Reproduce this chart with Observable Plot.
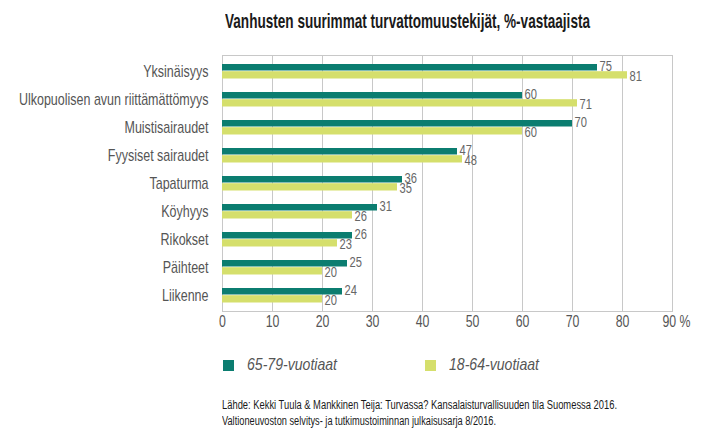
<!DOCTYPE html>
<html>
<head>
<meta charset="utf-8">
<script src="https://cdn.jsdelivr.net/npm/d3@7"></script>
<script src="https://cdn.jsdelivr.net/npm/@observablehq/plot@0.6"></script>
<style>
  html, body { margin: 0; padding: 0; background: #fff; }
  body { width: 712px; height: 446px; position: relative; overflow: hidden;
         font-family: "Liberation Sans", Arial, sans-serif; }
  .cond { display: inline-block; white-space: nowrap; transform-origin: 0 50%; }
  #title { position: absolute; left: 225px; top: 9px; font-size: 21px; font-weight: bold; color: #1a1a1a; }
  #chart { position: absolute; left: 0; top: 45px; }
  #legend { position: absolute; left: 223px; top: 355px; font-size: 17px; font-style: italic; color: #555; }
  .item { position: absolute; white-space: nowrap; display: flex; align-items: center; height: 20px; }
  .sw { width: 11px; height: 11px; margin-right: 13px; flex: none; }
  #caption { position: absolute; left: 222px; top: 397px; font-size: 12.5px; line-height: 16px; color: #1a1a1a; }
</style>
</head>
<body>
<div id="title"><span class="cond" data-w="365">Vanhusten suurimmat turvattomuustekijät, %-vastaajista</span></div>
<div id="chart"></div>
<div id="legend"></div>
<div id="caption"><span class="cond" data-w="395">Lähde: Kekki Tuula &amp; Mankkinen Teija: Turvassa? Kansalaisturvallisuuden tila Suomessa 2016.</span><br><span class="cond" data-w="274">Valtioneuvoston selvitys- ja tutkimustoiminnan julkaisusarja 8/2016.</span></div>
<script>
const categories = ["Yksinäisyys", "Ulkopuolisen avun riittämättömyys", "Muistisairaudet", "Fyysiset sairaudet", "Tapaturma", "Köyhyys", "Rikokset", "Päihteet", "Liikenne"];
const series = ["65-79-vuotiaat", "18-64-vuotiaat"];
const colors = ["#0b7d70", "#d5df6c"];
const older = [75, 60, 70, 47, 36, 31, 26, 25, 24];
const younger = [81, 71, 60, 48, 35, 26, 23, 20, 20];
const xTicks = [0, 10, 20, 30, 40, 50, 60, 70, 80, 90];

const dOld = categories.map((c, i) => ({category: c, value: older[i]}));
const dYoung = categories.map((c, i) => ({category: c, value: younger[i]}));

const FONT = '"Liberation Sans", Arial, sans-serif';
const SQUEEZE = 0.77;
const SQUEEZE_Y = 0.735;

const chart = Plot.plot({
  width: 712,
  height: 290,
  marginLeft: 222,
  marginRight: 40,
  marginTop: 10,
  marginBottom: 24,
  style: {fontFamily: FONT, background: "#fff"},
  x: {domain: [0, 90], ticks: xTicks, tickSize: 0, tickPadding: 4,
      tickFormat: d => d === 90 ? "90 %" : String(d), label: null},
  y: {domain: categories, padding: 0, tickSize: 0, tickPadding: 14, label: null},
  marks: [
    Plot.ruleX(xTicks, {stroke: "#c8c8c8", strokeWidth: 1}),
    Plot.frame({stroke: "#c8c8c8"}),
    Plot.barX(dOld, {x: "value", y: "category", fill: colors[0], insetTop: 7, insetBottom: 14.5}),
    Plot.barX(dYoung, {x: "value", y: "category", fill: colors[1], insetTop: 14.2, insetBottom: 6.5}),
    Plot.text(dOld, {x: "value", y: "category", text: d => String(d.value), dx: 2, dy: -5.5, textAnchor: "start",
                     fill: "#666", fontSize: 14.5, className: "vlab"}),
    Plot.text(dYoung, {x: "value", y: "category", text: d => String(d.value), dx: 2, dy: 5, textAnchor: "start",
                       fill: "#666", fontSize: 14.5, className: "vlab"})
  ]
});
const svg = d3.select(chart);
svg.selectAll("g[aria-label='x-axis tick label']").attr("font-size", "16px").attr("fill", "#555");
svg.selectAll("g[aria-label='y-axis tick label']").attr("font-size", "17px").attr("fill", "#555");
document.getElementById("chart").appendChild(chart);

// condense SVG texts (the reference uses a condensed typeface)
function condense(sel, f) {
  sel.each(function() {
    const w = this.getComputedTextLength();
    this.setAttribute("textLength", w * f);
    this.setAttribute("lengthAdjust", "spacingAndGlyphs");
  });
}
condense(svg.selectAll("g[aria-label='x-axis tick label'] text, .vlab text"), SQUEEZE);
condense(svg.selectAll("g[aria-label='y-axis tick label'] text"), SQUEEZE_Y);
// keep the "90" of "90 %" centred on its gridline
svg.selectAll("g[aria-label='x-axis tick label'] text").filter(function() { return this.textContent === "90 %"; })
  .attr("dx", 4);

const legend = document.getElementById("legend");
const legendX = [0, 202];
series.forEach((s, i) => {
  const it = document.createElement("div");
  it.className = "item";
  it.style.left = legendX[i] + "px";
  it.innerHTML = `<span class="sw" style="background:${colors[i]}"></span><span class="cond" data-w="90">${s}</span>`;
  legend.appendChild(it);
});

// condense HTML texts
document.querySelectorAll(".cond").forEach(el => {
  const w = el.getBoundingClientRect().width;
  const target = el.dataset.w ? +el.dataset.w : w * SQUEEZE;
  el.style.transform = `scaleX(${target / w})`;
});
</script>
</body>
</html>
